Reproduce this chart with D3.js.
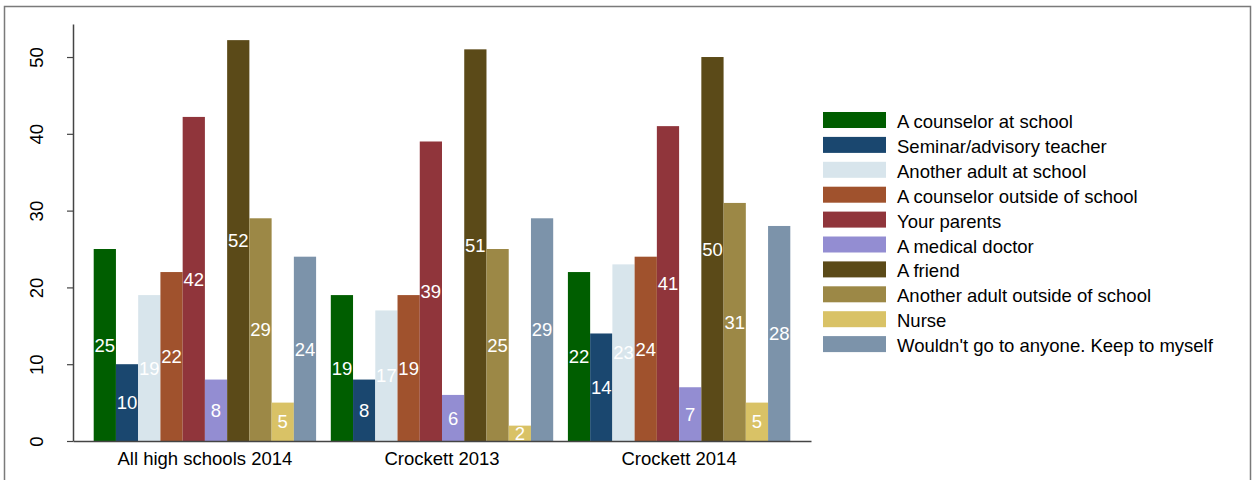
<!DOCTYPE html>
<html>
<head>
<meta charset="utf-8">
<script src="https://cdn.jsdelivr.net/npm/d3@7"></script>
<style>
  body { margin: 0; background: #fff; }
  svg { display: block; font-family: "Liberation Sans", Arial, sans-serif; }
</style>
</head>
<body>
<div id="chart"></div>
<script>
// Data
var groups = ["All high schools 2014", "Crockett 2013", "Crockett 2014"];
var seriesNames = [
  "A counselor at school",
  "Seminar/advisory teacher",
  "Another adult at school",
  "A counselor outside of school",
  "Your parents",
  "A medical doctor",
  "A friend",
  "Another adult outside of school",
  "Nurse",
  "Wouldn't go to anyone. Keep to myself"
];
var allHighSchools2014 = [25, 10, 19, 22, 42.2, 8, 52.2, 29, 5, 24];
var crockett2013 = [19, 8, 17, 19, 39, 6, 51, 25, 2, 29];
var crockett2014 = [22, 14, 23, 24, 41, 7, 50, 31, 5, 28];
var yTicks = [0, 10, 20, 30, 40, 50];

var colors = ["#005e00", "#1a476f", "#d8e5ec", "#a0522d", "#90353b",
              "#938dd2", "#5b4a18", "#9c8846", "#d9c266", "#7c93aa"];

var groupValues = [allHighSchools2014, crockett2013, crockett2014];

// Set up chart area
var svgWidth = 1252;
var svgHeight = 480;
var fontSize = "18.5px";

var plot = { left: 73, right: 811, top: 24, bottom: 441 };

var svg = d3.select("#chart")
  .append("svg")
  .attr("width", svgWidth)
  .attr("height", svgHeight);

// outer frame
svg.append("rect")
  .attr("x", 4.5)
  .attr("y", 6.5)
  .attr("width", 1246)
  .attr("height", 490)
  .attr("fill", "none")
  .attr("stroke", "#7a7a7a")
  .attr("stroke-width", 1.5);

// Scales
var x0 = d3.scaleBand()
  .domain(groups)
  .range([plot.left, plot.right])
  .paddingInner(0.062)
  .paddingOuter(0.0873);

var x1 = d3.scaleBand()
  .domain(seriesNames)
  .range([0, x0.bandwidth()]);

var y = d3.scaleLinear()
  .domain([0, 54.3])
  .range([plot.bottom, plot.top]);

var color = d3.scaleOrdinal()
  .domain(seriesNames)
  .range(colors);

// flat table of bars
var rows = [];
groups.forEach(function(g, gi) {
  seriesNames.forEach(function(s, si) {
    rows.push({ group: g, series: s, value: groupValues[gi][si] });
  });
});

svg.append("clipPath")
  .attr("id", "plotClip")
  .append("rect")
  .attr("x", plot.left)
  .attr("y", 0)
  .attr("width", plot.right - plot.left)
  .attr("height", plot.bottom);

var barGroup = svg.append("g").attr("clip-path", "url(#plotClip)");

barGroup.selectAll("rect.bar")
  .data(rows)
  .enter()
  .append("rect")
  .attr("class", "bar")
  .attr("x", d => x0(d.group) + x1(d.series))
  .attr("y", d => y(d.value))
  .attr("width", x1.bandwidth())
  .attr("height", d => y(0) - y(d.value))
  .attr("fill", d => color(d.series));

// value labels in the middle of each bar
barGroup.selectAll("text.valueLabel")
  .data(rows)
  .enter()
  .append("text")
  .attr("class", "valueLabel")
  .attr("x", d => x0(d.group) + x1(d.series) + x1.bandwidth() / 2)
  .attr("y", d => (y(d.value) + y(0)) / 2)
  .attr("dy", "0.36em")
  .attr("text-anchor", "middle")
  .attr("fill", "#fff")
  .style("font-size", fontSize)
  .text(d => d3.format(".0f")(d.value));

// Axes
var leftAxis = d3.axisLeft(y)
  .tickValues(yTicks)
  .tickSize(6)
  .tickSizeOuter(0);

var yAxisG = svg.append("g")
  .attr("transform", `translate(${plot.left}, 0)`)
  .call(leftAxis);

yAxisG.select(".domain").attr("stroke", "#444").attr("stroke-width", 1.5);
yAxisG.selectAll(".tick line").attr("stroke", "#444").attr("stroke-width", 1.2);
yAxisG.selectAll(".tick text")
  .attr("transform", "rotate(-90)")
  .attr("x", 0)
  .attr("y", -30)
  .attr("dy", 0)
  .attr("text-anchor", "middle")
  .attr("fill", "#000")
  .style("font-size", fontSize)
  .style("font-family", "Liberation Sans, Arial, sans-serif");

var bottomAxis = d3.axisBottom(x0)
  .tickSize(0)
  .tickSizeOuter(0);

var xAxisG = svg.append("g")
  .attr("transform", `translate(0, ${plot.bottom})`)
  .call(bottomAxis);

xAxisG.select(".domain").attr("stroke", "#444").attr("stroke-width", 1.5);
xAxisG.selectAll(".tick text")
  .attr("y", 24)
  .attr("dy", 0)
  .attr("fill", "#000")
  .style("font-size", fontSize)
  .style("font-family", "Liberation Sans, Arial, sans-serif");

// Legend
var legend = svg.append("g")
  .attr("transform", "translate(823, 112)");

var legendItem = legend.selectAll("g")
  .data(seriesNames)
  .enter()
  .append("g")
  .attr("transform", (d, i) => `translate(0, ${i * 24.9})`);

legendItem.append("rect")
  .attr("width", 63)
  .attr("height", 16)
  .attr("fill", d => color(d));

legendItem.append("text")
  .attr("x", 74)
  .attr("y", 16)
  .attr("fill", "#000")
  .style("font-size", fontSize)
  .text(d => d);
</script>
</body>
</html>
